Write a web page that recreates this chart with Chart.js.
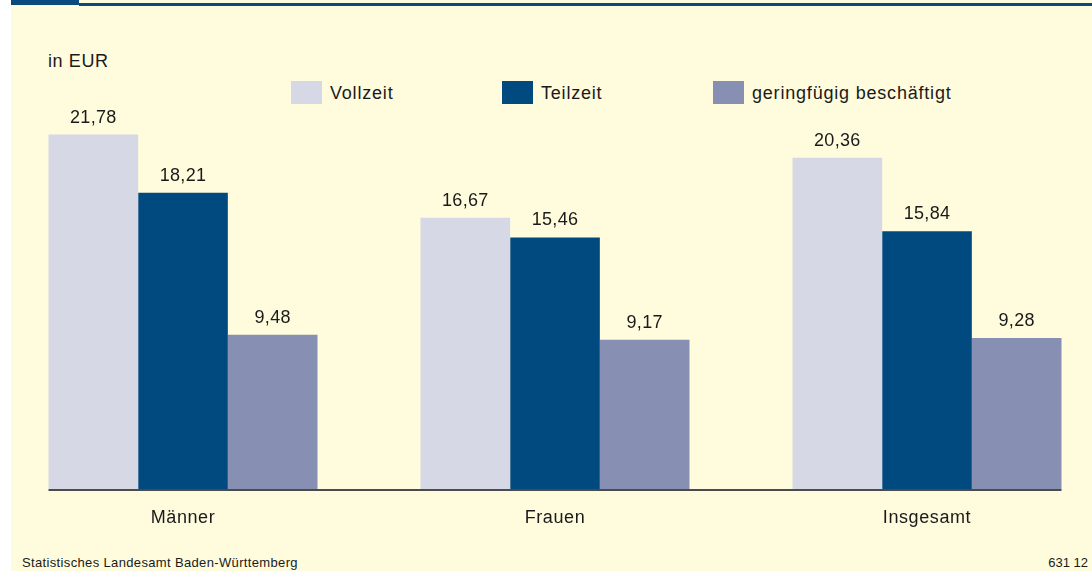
<!DOCTYPE html>
<html lang="de">
<head>
  <meta charset="UTF-8">
  <title>Bruttostundenverdienste nach Beschäftigungsart</title>
  <script src="https://cdn.jsdelivr.net/npm/chart.js"></script>
  <style>
    body {
      margin: 0;
      width: 1092px;
      height: 571px;
      overflow: hidden;
      background: #ffffff;
      font-family: "Liberation Sans", Arial, sans-serif;
      color: #1a1a1a;
      position: relative;
    }
    #panel {
      position: absolute;
      left: 11px; top: 0;
      width: 1081px; height: 571px;
      background: #fffcdd;
    }
    #topblock {
      position: absolute;
      left: 11px; top: 0;
      width: 68px; height: 5px;
      background: #0b4a7d;
    }
    #topline {
      position: absolute;
      left: 79px; top: 3px;
      width: 1013px; height: 3px;
      background: #0b4a7d;
    }
    #unit {
      position: absolute;
      left: 48px; top: 52px;
      font-size: 18px; line-height: 1;
      letter-spacing: 0.6px;
    }
    #legend {
      position: absolute;
      left: 291px; top: 81px;
      display: flex;
    }
    .item { display: flex; align-items: center; width: 211px; flex-shrink: 0; }
    .item:last-child { width: auto; }
    .box { width: 31px; height: 23px; margin-right: 8px; flex-shrink: 0; }
    .item span { font-size: 18px; line-height: 1; white-space: nowrap; letter-spacing: 0.8px; }
    #source {
      position: absolute;
      left: 22px; top: 556px;
      font-size: 13px; line-height: 1;
      letter-spacing: 0.35px;
    }
    #nr {
      position: absolute;
      right: 4px; top: 556px;
      font-size: 13px; line-height: 1;
    }
    canvas {
      position: absolute;
      left: -3px; top: 0;
    }
  </style>
</head>
<body>
  <div id="panel"></div>
  <div id="topblock"></div>
  <div id="topline"></div>
  <div id="unit">in EUR</div>
  <div id="legend"></div>
  <div id="source">Statistisches Landesamt Baden-Württemberg</div>
  <div id="nr">631 12</div>
  <canvas id="chart" width="1116" height="571"></canvas>

  <script>
    const categories = ['Männer', 'Frauen', 'Insgesamt'];
    const vollzeit = [21.78, 16.67, 20.36];
    const teilzeit = [18.21, 15.46, 15.84];
    const geringfuegig = [9.48, 9.17, 9.28];

    const datasets = [
      { label: 'Vollzeit', data: vollzeit, backgroundColor: '#d6d8e5' },
      { label: 'Teilzeit', data: teilzeit, backgroundColor: '#004a80' },
      { label: 'geringfügig beschäftigt', data: geringfuegig, backgroundColor: '#8790b3' }
    ];

    // Legende als HTML aus den Datensätzen
    const legend = document.getElementById('legend');
    datasets.forEach(ds => {
      const item = document.createElement('div');
      item.className = 'item';
      item.innerHTML = '<div class="box" style="background:' + ds.backgroundColor + '"></div><span>' + ds.label + '</span>';
      legend.appendChild(item);
    });

    const fmt = v => v.toFixed(2).replace('.', ',');

    // etwas Laufweite wie im Original
    const spacing = {
      id: 'spacing',
      beforeDraw(chart) { chart.ctx.letterSpacing = '0.6px'; }
    };

    const valueLabels = {
      id: 'valueLabels',
      afterDatasetsDraw(chart) {
        const ctx = chart.ctx;
        ctx.save();
        ctx.font = '18px "Liberation Sans", Arial, sans-serif';
        ctx.letterSpacing = '0.3px';
        ctx.fillStyle = '#1a1a1a';
        ctx.textAlign = 'center';
        ctx.textBaseline = 'alphabetic';
        chart.data.datasets.forEach((ds, i) => {
          chart.getDatasetMeta(i).data.forEach((bar, j) => {
            ctx.fillText(fmt(ds.data[j]), bar.x, bar.y - 12);
          });
        });
        ctx.restore();
      }
    };

    const baseLine = {
      id: 'baseLine',
      afterDatasetsDraw(chart) {
        const first = chart.getDatasetMeta(0).data[0];
        const lastMeta = chart.getDatasetMeta(chart.data.datasets.length - 1).data;
        const last = lastMeta[lastMeta.length - 1];
        const ctx = chart.ctx;
        const y = chart.chartArea.bottom + 1;
        ctx.save();
        ctx.strokeStyle = '#4b4b4b';
        ctx.lineWidth = 2;
        ctx.beginPath();
        ctx.moveTo(first.x - first.width / 2, y);
        ctx.lineTo(last.x + last.width / 2, y);
        ctx.stroke();
        ctx.restore();
      }
    };

    new Chart(document.getElementById('chart'), {
      type: 'bar',
      data: { labels: categories, datasets: datasets },
      options: {
        responsive: false,
        animation: false,
        devicePixelRatio: 1,
        layout: { padding: { top: 131, left: 0, right: 0, bottom: 0 } },
        datasets: {
          bar: { barPercentage: 1, categoryPercentage: 0.7231 }
        },
        plugins: {
          legend: { display: false },
          tooltip: { enabled: false }
        },
        scales: {
          x: {
            grid: { display: false },
            border: { display: false },
            ticks: {
              color: '#1a1a1a',
              padding: 10,
              font: { family: '"Liberation Sans", Arial, sans-serif', size: 18 }
            },
            afterFit(scale) { scale.height = 82; }
          },
          y: {
            display: false,
            min: 0,
            max: 22
          }
        }
      },
      plugins: [spacing, valueLabels, baseLine]
    });
  </script>
</body>
</html>
